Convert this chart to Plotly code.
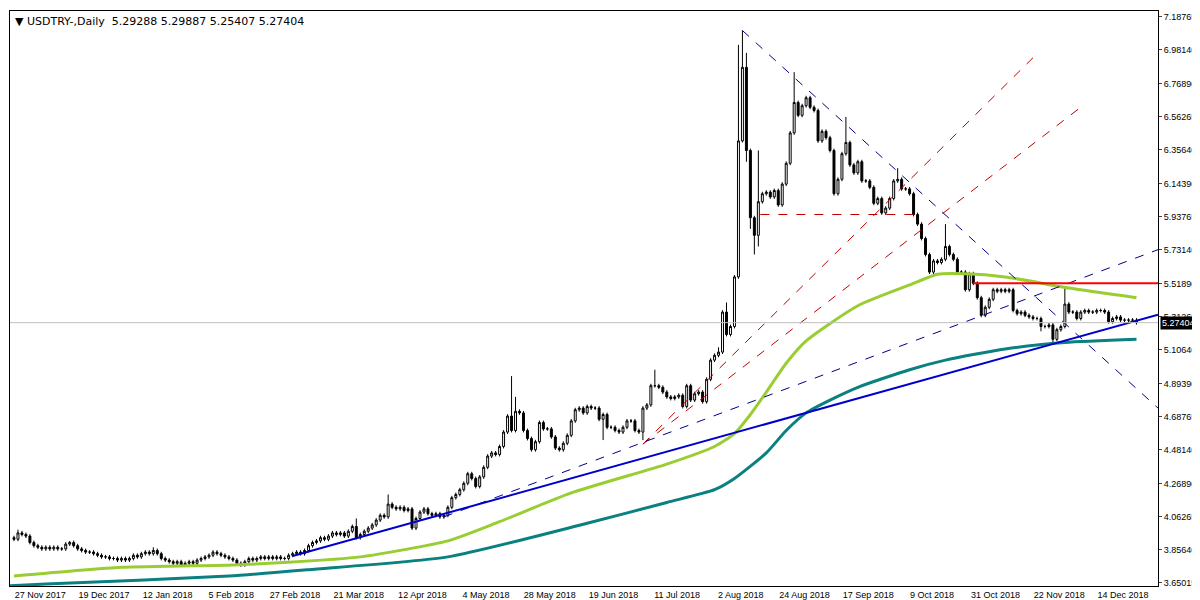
import pandas as pd
import plotly.graph_objects as go

# daily closes, one per bar (27 Nov 2017 .. end Dec 2018)
closes = [
    3.92, 3.96, 3.95, 3.94, 3.90, 3.88, 3.87, 3.86, 3.87, 3.86, 3.87, 3.86, 3.86, 3.89, 3.90,
    3.88, 3.86, 3.85, 3.84, 3.84, 3.83, 3.82, 3.81, 3.81, 3.80, 3.80, 3.79, 3.80, 3.79, 3.80,
    3.82, 3.81, 3.83, 3.84, 3.83, 3.85, 3.83, 3.80, 3.79, 3.78, 3.77, 3.78, 3.76, 3.77, 3.78,
    3.77, 3.79, 3.80, 3.81, 3.82, 3.84, 3.83, 3.82, 3.81, 3.80, 3.79, 3.77, 3.76, 3.78, 3.80,
    3.79, 3.80, 3.81, 3.80, 3.81, 3.80, 3.81, 3.80, 3.80, 3.82, 3.83, 3.84, 3.83, 3.85, 3.88,
    3.90, 3.91, 3.93, 3.92, 3.94, 3.96, 3.95, 3.96, 3.94, 3.97, 4.00, 3.93, 3.95, 3.97, 3.99,
    4.01, 4.04, 4.07, 4.06, 4.14, 4.12, 4.11, 4.12, 4.10, 4.11, 3.99, 4.05, 4.09, 4.11, 4.08,
    4.07, 4.08, 4.06, 4.07, 4.12, 4.18, 4.20, 4.23, 4.27, 4.33, 4.30, 4.25, 4.31, 4.37, 4.44,
    4.46, 4.45, 4.50, 4.59, 4.69, 4.60, 4.72, 4.71, 4.60, 4.55, 4.48, 4.53, 4.65, 4.61, 4.61,
    4.56, 4.49, 4.48, 4.52, 4.57, 4.66, 4.73, 4.74, 4.71, 4.75, 4.74, 4.74, 4.67, 4.70, 4.62,
    4.62, 4.60, 4.59, 4.62, 4.66, 4.66, 4.60, 4.59, 4.74, 4.76, 4.88, 4.88, 4.87, 4.84, 4.81,
    4.80, 4.81, 4.82, 4.75, 4.88, 4.79, 4.83, 4.84, 4.78, 4.92, 5.04, 5.07, 5.09, 5.34, 5.20,
    5.25, 5.56, 6.41, 6.87, 6.35, 5.93, 5.82, 6.03, 6.08, 6.09, 6.06, 6.10, 6.01, 6.14, 6.27,
    6.46, 6.65, 6.57, 6.63, 6.68, 6.62, 6.60, 6.41, 6.47, 6.43, 6.35, 6.08, 6.17, 6.33, 6.40,
    6.26, 6.21, 6.28, 6.16, 6.16, 6.12, 6.02, 6.05, 5.96, 5.99, 6.05, 6.16, 6.17, 6.11, 6.11,
    6.08, 5.95, 5.89, 5.80, 5.70, 5.59, 5.66, 5.65, 5.67, 5.75, 5.70, 5.67, 5.59, 5.59, 5.48,
    5.58, 5.52, 5.43, 5.32, 5.37, 5.42, 5.48, 5.47, 5.48, 5.47, 5.48, 5.35, 5.33, 5.34, 5.32,
    5.31, 5.30, 5.30, 5.25, 5.25, 5.26, 5.17, 5.23, 5.25, 5.39, 5.34, 5.34, 5.30, 5.34, 5.35,
    5.34, 5.34, 5.35, 5.35, 5.34, 5.28, 5.30, 5.31, 5.29, 5.29, 5.29, 5.29, 5.27404,
]
first_open = 3.93

# wick extremes that stand out on the chart (bar index: price)
high_wicks = {1: 3.98, 14: 3.91, 35: 3.87, 86: 4.05, 94: 4.20, 125: 4.94, 126: 4.81,
              161: 4.98, 177: 5.12, 179: 5.40, 182: 7.01, 183: 7.10, 184: 6.96, 187: 6.35,
              196: 6.84, 209: 6.56, 222: 6.24, 234: 5.89, 264: 5.49}
low_wicks = {158: 4.54, 148: 4.54, 184: 6.28, 185: 5.86, 186: 5.70, 187: 5.75,
             258: 5.22, 261: 5.14, 183: 6.40}

# moving averages sampled along their curves (bar index, price)
ma_fast_idx = [0, 27, 55, 69, 87, 109, 122, 140, 164, 176, 181, 185, 189, 194, 199, 212, 225, 232, 239, 249, 265, 282]
ma_fast_val = [3.69, 3.745, 3.76, 3.776, 3.81, 3.91, 4.03, 4.21, 4.39, 4.50, 4.58, 4.70, 4.84, 5.02, 5.16,
               5.38, 5.51, 5.577, 5.58, 5.56, 5.49, 5.43]
ma_slow_idx = [-1, 8, 54, 74, 109, 144, 164, 176, 181, 189, 194, 199, 205, 212, 225, 234, 249, 264, 282]
ma_slow_val = [3.63, 3.64, 3.69, 3.73, 3.81, 4.02, 4.15, 4.23, 4.30, 4.46, 4.60, 4.71, 4.79, 4.87, 4.98,
               5.04, 5.11, 5.15, 5.17]

# drawn objects: (bar index, price) pairs
support_line = [(70, 3.815), (287.4, 5.324)]
upper_channel = [(108, 4.06), (287.4, 5.73)]
falling_line = [(183, 7.10), (287.4, 4.74)]
red_level = [(241, 5.52), (287.4, 5.52)]
red_dashed_level = [(187.5, 5.95), (227, 5.95)]
red_fan_1 = [(158, 4.515), (256, 6.93)]
red_fan_2 = [(158, 4.515), (268.6, 6.632)]

y_ticks = [7.18765, 6.98140, 6.76890, 6.56265, 6.35640, 6.14390, 5.93765, 5.73140, 5.51890,
           5.31265, 5.10640, 4.89390, 4.68765, 4.48140, 4.26890, 4.06265, 3.85640, 3.65015]
x_label_idx = list(range(0, 273, 16))

# bar dates: weekdays without Christmas / New Year
days = pd.bdate_range("2017-11-27", "2019-01-10")
days = [d for d in days if not (d.month == 12 and d.day == 25) and not (d.month == 1 and d.day == 1)]
days = days[:len(closes)]
x_text = [f"{days[i].day} {days[i].strftime('%b %Y')}" for i in x_label_idx]

idx = list(range(len(closes)))
opens = [first_open] + closes[:-1]
highs = [high_wicks.get(i, max(o, c) + 0.012) for i, (o, c) in enumerate(zip(opens, closes))]
lows = [low_wicks.get(i, min(o, c) - 0.012) for i, (o, c) in enumerate(zip(opens, closes))]

fig = go.Figure()

fig.add_trace(go.Scatter(x=ma_slow_idx, y=ma_slow_val, mode="lines", line=dict(color="#0A8080", width=3, shape="spline", smoothing=0.6)))
fig.add_trace(go.Scatter(x=ma_fast_idx, y=ma_fast_val, mode="lines", line=dict(color="#9ACD32", width=3, shape="spline", smoothing=0.6)))

def seg(pts, color, width, dash="solid"):
    fig.add_trace(go.Scatter(x=[p[0] for p in pts], y=[p[1] for p in pts], mode="lines",
                             line=dict(color=color, width=width, dash=dash)))

seg(red_fan_1, "#C00000", 1, "dash")
seg(red_fan_2, "#C00000", 1, "dash")
seg(red_dashed_level, "#C00000", 1, "dash")
seg(upper_channel, "#00008B", 1, "dash")
seg(falling_line, "#00008B", 1, "dash")
seg(support_line, "#0000CD", 2)
seg(red_level, "#FF0000", 2)

fig.add_trace(go.Candlestick(
    x=idx, open=opens, high=highs, low=lows, close=closes,
    increasing=dict(line=dict(color="black", width=1), fillcolor="white"),
    decreasing=dict(line=dict(color="black", width=1), fillcolor="black"),
    whiskerwidth=0,
))

fig.add_hline(y=closes[-1], line=dict(color="#C0C0C0", width=1))

fig.add_annotation(x=1.0, xref="paper", y=closes[-1], yref="y", text="5.27404", showarrow=False,
                   xanchor="left", bgcolor="black", font=dict(color="white", size=9, family="Liberation Sans"),
                   borderpad=1, xshift=2)
fig.add_annotation(x=0.003, xref="paper", y=0.997, yref="paper", xanchor="left", yanchor="top",
                   text="▼ USDTRY-,Daily  5.29288 5.29887 5.25407 5.27404", showarrow=False,
                   font=dict(size=11, family="DejaVu Sans", color="black"))

fig.update_layout(
    width=1200, height=600, showlegend=False,
    margin=dict(l=2, r=50, t=3, b=22),
    paper_bgcolor="white", plot_bgcolor="white",
    font=dict(family="Liberation Sans", size=9, color="black"),
)
fig.update_xaxes(range=[-1, 287.4], rangeslider_visible=False, showgrid=False, zeroline=False,
                 tickvals=[i + 6.6 for i in x_label_idx], ticktext=x_text, ticks="",
                 tickfont=dict(size=9), showline=True, linecolor="black", mirror=True)
fig.update_yaxes(range=[3.628, 7.222], side="right", showgrid=False, zeroline=False,
                 tickvals=y_ticks, ticktext=[f"{v:.5f}" for v in y_ticks], ticks="outside", ticklen=3,
                 tickfont=dict(size=9), showline=True, linecolor="black", mirror=True)

fig.write_html("out.html")
